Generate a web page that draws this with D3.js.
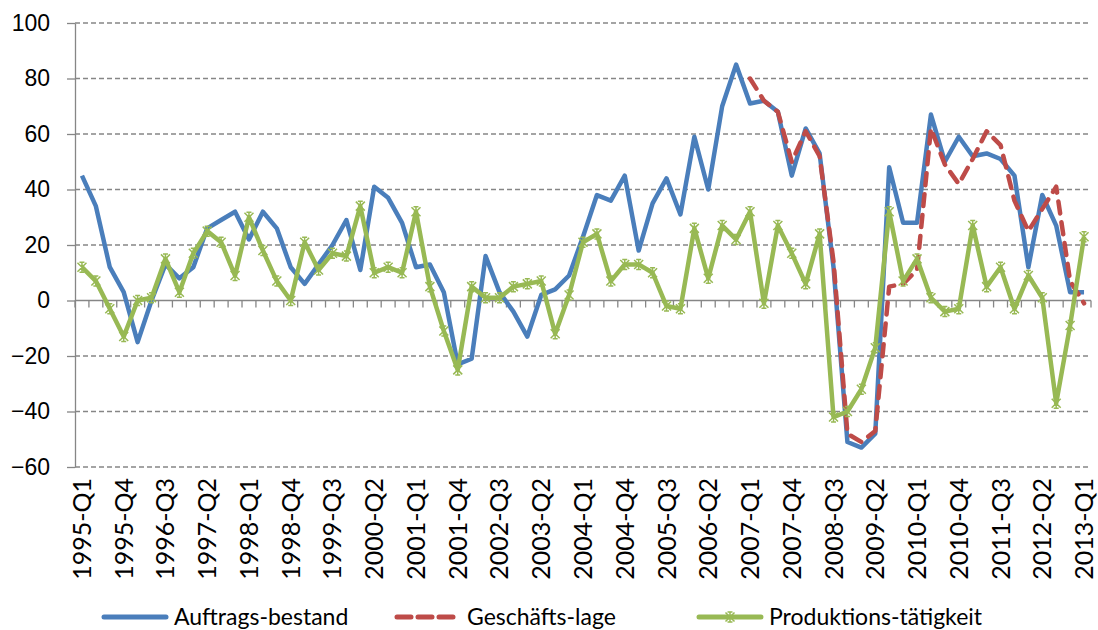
<!DOCTYPE html>
<html>
<head>
<meta charset="utf-8">
<script src="https://cdn.jsdelivr.net/npm/d3@7"></script>
<style>
  body { margin: 0; background: #fff; }
  svg { display: block; font-family: Lato, "Open Sans", sans-serif; }
</style>
</head>
<body>
<div id="chart"></div>
<script>
// quarters 1995-Q1 .. 2013-Q1
const quarters = [];
for (let y = 1995; y <= 2013; y++) {
    for (let q = 1; q <= 4; q++) {
        if (y === 2013 && q > 1) break;
        quarters.push(`${y}-Q${q}`);
    }
}

const auftragsBestand = [45, 34, 12, 3, -15, 0, 13, 8, 12, 26, 29, 32, 22, 32, 26, 12, 6, 13, 20, 29,
    11, 41, 37, 28, 12, 13, 3, -23, -21, 16, 3, -4, -13, 2, 4, 9, 23, 38, 36, 45,
    18, 35, 44, 31, 59, 40, 70, 85, 71, 72, 68, 45, 62, 53, 12, -51, -53, -48, 48, 28,
    28, 67, 50, 59, 52, 53, 51, 45, 12, 38, 27, 3, 3];

// Geschäftslage starts in 2007-Q1
const geschaeftsStart = "2007-Q1";
const geschaeftsLage = [80, 72, 68, 50, 61, 52, 14, -48, -51, -47, 5, 6, 11, 62, 49, 42, 51, 61, 56, 36,
    25, 33, 41, 7, -1];

const produktionsTaetigkeit = [12, 7, -3, -13, 0, 1, 15, 3, 17, 25, 21, 9, 30, 18, 7, 0, 21, 11, 17, 16,
    34, 10, 12, 10, 32, 5, -11, -25, 5, 1, 1, 5, 6, 7, -12, 2, 21, 24, 7, 13,
    13, 10, -2, -3, 26, 8, 27, 22, 32, -1, 27, 17, 6, 24, -42, -40, -32, -17, 32, 7,
    15, 1, -4, -3, 27, 5, 12, -3, 9, 1, -37, -9, 23];

const yTicks = [-60, -40, -20, 0, 20, 40, 60, 80, 100];

const width = 1098, height = 630;
const plot = { left: 75, right: 1091, top: 23, bottom: 467 };

const svg = d3.select("#chart").append("svg")
    .attr("width", width)
    .attr("height", height);

const x = d3.scaleBand()
    .domain(quarters)
    .range([plot.left, plot.right])
    .padding(0);
const y = d3.scaleLinear()
    .domain([-60, 100])
    .range([plot.bottom, plot.top]);

const cx = d => x(d) + x.bandwidth() / 2;
const axisColor = "#868686";

// gridlines
svg.append("g")
    .selectAll("line")
    .data(yTicks.filter(t => t !== 0))
    .join("line")
    .attr("x1", plot.left)
    .attr("x2", plot.right)
    .attr("y1", d => y(d))
    .attr("y2", d => y(d))
    .attr("stroke", axisColor)
    .attr("stroke-width", 1.3)
    .attr("stroke-dasharray", "5,3");

// y axis
const yAxis = svg.append("g")
    .attr("transform", `translate(${plot.left},0)`)
    .call(d3.axisLeft(y).tickValues(yTicks).tickSize(8).tickSizeOuter(0).tickPadding(17));
yAxis.select(".domain").attr("stroke", axisColor).attr("stroke-width", 1.3);
yAxis.selectAll(".tick line").attr("stroke", axisColor).attr("stroke-width", 1.3);
yAxis.selectAll(".tick text")
    .attr("fill", "#000")
    .style("font-size", "23px");

// x axis on the zero line, ticks between categories
const zeroY = y(0);
svg.append("line")
    .attr("x1", plot.left).attr("x2", plot.right)
    .attr("y1", zeroY).attr("y2", zeroY)
    .attr("stroke", axisColor).attr("stroke-width", 1.3);

const boundaries = quarters.map(q => x(q)).concat([plot.right]);
svg.append("g")
    .selectAll("line")
    .data(boundaries)
    .join("line")
    .attr("x1", d => d).attr("x2", d => d)
    .attr("y1", zeroY).attr("y2", zeroY + 7)
    .attr("stroke", axisColor).attr("stroke-width", 1.3);

// x labels, every third quarter, at the bottom
svg.append("g")
    .selectAll("text")
    .data(quarters.filter((q, i) => i % 3 === 0))
    .join("text")
    .attr("transform", d => `translate(${cx(d) + 9},${plot.bottom + 11}) rotate(-90)`)
    .attr("text-anchor", "end")
    .style("font-size", "25px")
    .attr("fill", "#000")
    .text(d => d);

// series
const startIdx = quarters.indexOf(geschaeftsStart);
const series = [
    { name: "Auftrags-bestand", color: "#4A7EBB", dash: null,
      pts: auftragsBestand.map((v, i) => [quarters[i], v]) },
    { name: "Geschäfts-lage", color: "#BE4B48", dash: "12,9",
      pts: geschaeftsLage.map((v, i) => [quarters[startIdx + i], v]) },
    { name: "Produktions-tätigkeit", color: "#98B954", dash: null, marker: true,
      pts: produktionsTaetigkeit.map((v, i) => [quarters[i], v]) }
];

const line = d3.line()
    .x(d => cx(d[0]))
    .y(d => y(d[1]));

const starPath = "M-4.5,-4.5L4.5,4.5M-4.5,4.5L4.5,-4.5M0,-5L0,5M-2.5,-5L2.5,-5M-2.5,5L2.5,5";

series.forEach(s => {
    svg.append("path")
        .datum(s.pts)
        .attr("d", line)
        .attr("fill", "none")
        .attr("stroke", s.color)
        .attr("stroke-width", 4.5)
        .attr("stroke-linejoin", "round")
        .attr("stroke-linecap", s.dash ? "round" : "butt")
        .attr("stroke-dasharray", s.dash);

    if (s.marker) {
        svg.append("g")
            .selectAll("path")
            .data(s.pts)
            .join("path")
            .attr("transform", d => `translate(${cx(d[0])},${y(d[1])})`)
            .attr("d", starPath)
            .attr("fill", "none")
            .attr("stroke", s.color)
            .attr("stroke-width", 1.5);
    }
});

// legend
const legendItems = [
    { s: series[0], x: 104 },
    { s: series[1], x: 397 },
    { s: series[2], x: 699 }
];
const legendY = 617;
legendItems.forEach(item => {
    const g = svg.append("g").attr("transform", `translate(${item.x},${legendY})`);
    g.append("line")
        .attr("x1", 0).attr("x2", item.s.dash ? 56 : 62)
        .attr("y1", 0).attr("y2", 0)
        .attr("stroke", item.s.color)
        .attr("stroke-width", 5)
        .attr("stroke-linecap", "round")
        .attr("stroke-dasharray", item.s.dash ? "14,7" : null);
    if (item.s.marker) {
        g.append("path")
            .attr("transform", "translate(31,0)")
            .attr("d", starPath)
            .attr("fill", "none")
            .attr("stroke", item.s.color)
            .attr("stroke-width", 1.5);
    }
    g.append("text")
        .attr("x", 70)
        .attr("y", 8)
        .style("font-size", "23px")
        .attr("fill", "#000")
        .text(item.s.name);
});
</script>
</body>
</html>
